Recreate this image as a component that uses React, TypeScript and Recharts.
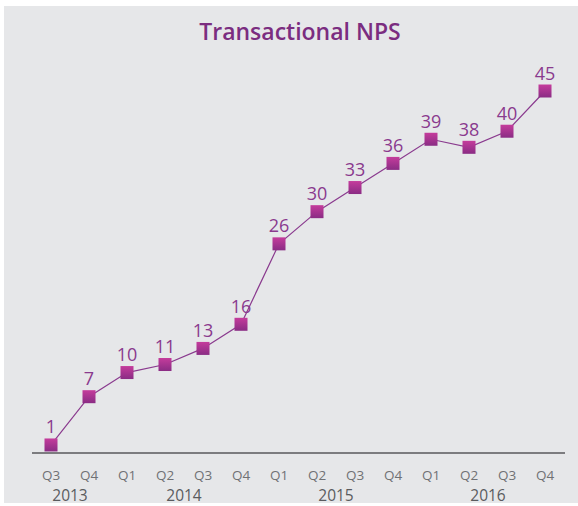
import React from 'react';
import { LineChart, Line, XAxis, YAxis, LabelList } from 'recharts';

const quarters = ['Q3', 'Q4', 'Q1', 'Q2', 'Q3', 'Q4', 'Q1', 'Q2', 'Q3', 'Q4', 'Q1', 'Q2', 'Q3', 'Q4'];
const years = ['2013', '', '', '2014', '', '', '', '2015', '', '', '', '2016', '', ''];
const npsValues = [1, 7, 10, 11, 13, 16, 26, 30, 33, 36, 39, 38, 40, 45];

const data = quarters.map((q, i) => ({ key: `${i}`, quarter: q, year: years[i], nps: npsValues[i] }));

const FONT = '"Open Sans", Lato, sans-serif';
const PURPLE = '#8a3a8e';

const Tick = (props: any) => {
  const { x, y, payload, index } = props;
  const d = data[index] || data[payload.index];
  return (
    <g>
      <text x={x} y={y + 19} textAnchor="middle" fontSize={13.5} fill="#707174" fontFamily={FONT}>
        {d ? d.quarter : ''}
      </text>
      {d && d.year ? (
        <text x={x + 19} y={y + 40} textAnchor="middle" fontSize={15.5} fill="#5a5b5e" fontFamily={FONT}>
          {d.year}
        </text>
      ) : null}
    </g>
  );
};

const Dot = (props: any) => {
  const { cx, cy } = props;
  if (cx == null || cy == null) return null;
  return <rect x={cx - 6.5} y={cy - 6.5} width={13} height={13} fill="url(#sqGrad)" />;
};

const ValueLabel = (props: any) => {
  const { x, y, value } = props;
  return (
    <text x={x} y={y - 11.5} textAnchor="middle" fontSize={18} fill={PURPLE} fontFamily={FONT}>
      {value}
    </text>
  );
};

export default function App() {
  return (
    <div style={{ position: 'absolute', left: 0, top: 0, width: 578, height: 506, background: '#ffffff' }}>
      <div style={{ position: 'absolute', left: 4, top: 6, width: 574, height: 497, background: '#e6e7e9' }} />
      <div
        style={{
          position: 'absolute',
          left: 0,
          top: 15,
          width: 600,
          textAlign: 'center',
          fontFamily: FONT,
          fontWeight: 600,
          fontSize: 23,
          color: '#7b2d80',
          lineHeight: '32px',
        }}
      >
        Transactional NPS
      </div>
      <div style={{ position: 'absolute', left: 0, top: 0 }}>
        <LineChart
          width={578}
          height={506}
          data={data}
          margin={{ top: 91, right: 13, bottom: 0, left: 32 }}
        >
          <defs>
            <linearGradient id="sqGrad" x1="0" y1="0" x2="0" y2="1">
              <stop offset="0%" stopColor="#c53c9c" />
              <stop offset="100%" stopColor="#8a2c84" />
            </linearGradient>
          </defs>
          <XAxis
            dataKey="key"
            height={53}
            padding={{ left: 19, right: 20 }}
            axisLine={{ stroke: '#58595b', strokeWidth: 1.5 }}
            tickLine={false}
            interval={0}
            tick={<Tick />}
          />
          <YAxis hide domain={[0, 45]} type="number" />
          <Line
            type="linear"
            dataKey="nps"
            stroke={PURPLE}
            strokeWidth={1.2}
            dot={<Dot />}
            activeDot={false}
            isAnimationActive={false}
          >
            <LabelList dataKey="nps" content={<ValueLabel />} />
          </Line>
        </LineChart>
      </div>
    </div>
  );
}
